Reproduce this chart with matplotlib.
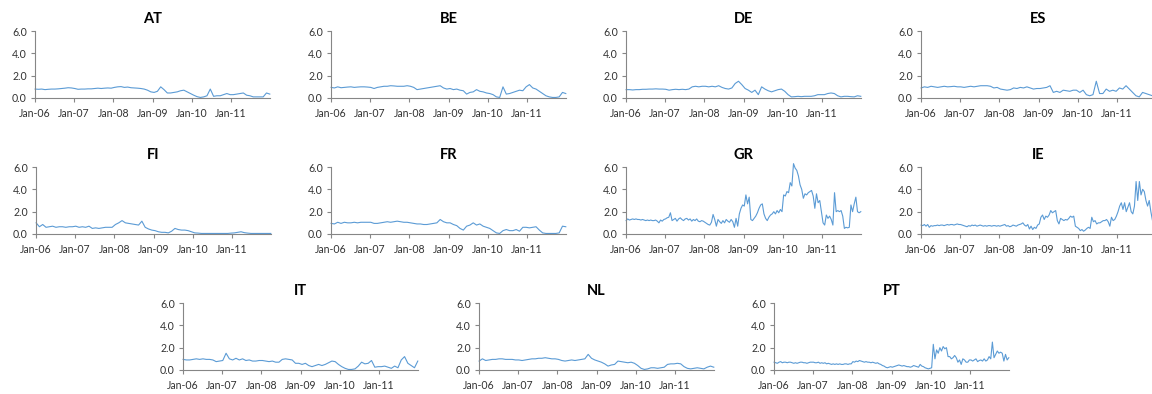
import matplotlib
matplotlib.use("Agg")
import matplotlib.pyplot as plt
import numpy as np
import pandas as pd

plt.rcParams['font.family'] = ['Lato', 'DejaVu Sans']

# Monthly spreads, Jan-06 .. Dec-11 (72 values)
AT = [0.80, 0.78, 0.80, 0.75, 0.78, 0.80, 0.80, 0.82, 0.85, 0.88, 0.92, 0.90,
      0.85, 0.78, 0.80, 0.80, 0.82, 0.82, 0.85, 0.88, 0.85, 0.88, 0.90, 0.88,
      0.95, 1.00, 1.02, 0.95, 0.98, 0.92, 0.90, 0.88, 0.85, 0.80, 0.70, 0.55,
      0.50, 0.60, 1.00, 0.75, 0.45, 0.45, 0.50, 0.55, 0.65, 0.70, 0.55, 0.40,
      0.25, 0.12, 0.05, 0.10, 0.20, 0.80, 0.15, 0.20, 0.20, 0.30, 0.40, 0.30,
      0.30, 0.35, 0.40, 0.45, 0.25, 0.20, 0.10, 0.10, 0.10, 0.10, 0.45, 0.35]

BE = [0.95, 0.90, 1.00, 0.92, 0.95, 0.98, 1.00, 0.95, 0.98, 1.00, 1.00, 0.98,
      0.95, 0.85, 0.95, 1.00, 1.05, 1.05, 1.10, 1.08, 1.05, 1.05, 1.05, 1.10,
      1.05, 0.95, 0.75, 0.80, 0.85, 0.90, 0.95, 1.00, 1.05, 1.10, 0.90, 0.80,
      0.85, 0.75, 0.80, 0.70, 0.65, 0.35, 0.50, 0.55, 0.75, 0.60, 0.55, 0.45,
      0.40, 0.30, 0.10, 0.05, 1.00, 0.35, 0.40, 0.50, 0.60, 0.70, 0.65, 1.00,
      1.20, 0.90, 0.80, 0.60, 0.40, 0.20, 0.10, 0.05, 0.05, 0.10, 0.50, 0.40]

DE = [0.75, 0.75, 0.72, 0.75, 0.75, 0.78, 0.78, 0.80, 0.80, 0.82, 0.80, 0.80,
      0.78, 0.70, 0.75, 0.78, 0.75, 0.78, 0.75, 0.80, 1.00, 1.05, 1.00, 1.05,
      1.05, 1.00, 1.05, 1.00, 1.10, 0.95, 0.85, 0.80, 0.90, 1.30, 1.50, 1.20,
      0.85, 0.70, 0.50, 0.70, 0.30, 1.00, 0.80, 0.65, 0.55, 0.65, 0.75, 0.80,
      0.60, 0.30, 0.10, 0.12, 0.15, 0.12, 0.15, 0.15, 0.15, 0.20, 0.30, 0.30,
      0.30, 0.40, 0.45, 0.40, 0.20, 0.10, 0.15, 0.15, 0.12, 0.10, 0.20, 0.15]

ES = [0.90, 1.00, 0.95, 1.05, 1.00, 0.95, 1.00, 1.05, 1.00, 1.02, 1.05, 1.00,
      1.00, 0.95, 1.00, 1.05, 1.00, 1.05, 1.10, 1.10, 1.10, 1.05, 0.90, 0.95,
      0.80, 0.75, 0.70, 0.75, 0.90, 0.85, 0.95, 0.90, 1.00, 0.90, 0.80, 0.85,
      0.85, 0.90, 0.95, 1.10, 0.50, 0.60, 0.50, 0.70, 0.65, 0.60, 0.70, 0.70,
      0.50, 0.70, 0.30, 0.20, 0.30, 1.50, 0.40, 0.40, 0.80, 0.60, 0.70, 0.60,
      0.90, 0.80, 1.10, 0.80, 0.50, 0.20, 0.10, 0.50, 0.40, 0.30, 0.20, 1.00]

FI = [1.00, 0.65, 0.85, 0.60, 0.65, 0.70, 0.60, 0.65, 0.65, 0.60, 0.65, 0.65,
      0.70, 0.60, 0.65, 0.60, 0.70, 0.50, 0.55, 0.50, 0.55, 0.60, 0.60, 0.60,
      0.85, 1.00, 1.20, 1.00, 0.95, 0.90, 0.85, 0.80, 1.15, 0.60, 0.45, 0.35,
      0.30, 0.20, 0.15, 0.15, 0.10, 0.25, 0.50, 0.40, 0.35, 0.35, 0.30, 0.20,
      0.10, 0.08, 0.05, 0.05, 0.05, 0.05, 0.05, 0.05, 0.05, 0.05, 0.05, 0.08,
      0.10, 0.15, 0.20, 0.12, 0.08, 0.05, 0.05, 0.05, 0.05, 0.05, 0.05, 0.05]

FR = [0.95, 0.90, 1.05, 0.95, 1.05, 1.00, 1.00, 1.05, 1.00, 1.05, 1.05, 1.05,
      1.05, 0.95, 0.95, 1.00, 1.05, 1.10, 1.05, 1.10, 1.15, 1.10, 1.05, 1.05,
      1.00, 0.95, 0.90, 0.90, 0.85, 0.85, 0.90, 0.95, 1.00, 1.30, 1.10, 1.00,
      1.00, 0.85, 0.75, 0.50, 0.35, 0.70, 0.80, 1.00, 0.80, 0.90, 0.70, 0.60,
      0.50, 0.30, 0.10, 0.05, 0.30, 0.40, 0.30, 0.30, 0.40, 0.25, 0.60, 0.60,
      0.55, 0.60, 0.65, 0.35, 0.10, 0.05, 0.05, 0.05, 0.05, 0.10, 0.70, 0.65]

IT = [0.95, 0.90, 0.90, 0.95, 1.00, 0.95, 1.00, 0.95, 0.95, 0.90, 0.75, 0.80,
      0.85, 1.50, 1.00, 0.90, 1.05, 0.90, 1.00, 0.85, 0.90, 0.80, 0.80, 0.85,
      0.85, 0.80, 0.75, 0.80, 0.70, 0.70, 0.95, 1.00, 0.95, 0.90, 0.60, 0.60,
      0.50, 0.60, 0.40, 0.30, 0.40, 0.50, 0.40, 0.50, 0.65, 0.80, 0.75, 0.50,
      0.30, 0.15, 0.05, 0.05, 0.10, 0.35, 0.70, 0.55, 0.60, 0.85, 0.25, 0.30,
      0.30, 0.35, 0.25, 0.15, 0.35, 0.20, 0.90, 1.20, 0.60, 0.40, 0.20, 0.80]

NL = [0.80, 1.00, 0.85, 0.90, 0.95, 0.95, 1.00, 1.00, 0.95, 0.95, 0.95, 0.90,
      0.90, 0.85, 0.90, 0.95, 1.00, 1.00, 1.05, 1.05, 1.10, 1.05, 1.00, 1.00,
      0.95, 0.85, 0.80, 0.85, 0.90, 0.85, 0.90, 0.95, 1.00, 1.40, 1.05, 0.90,
      0.80, 0.70, 0.55, 0.35, 0.45, 0.50, 0.80, 0.75, 0.70, 0.65, 0.70, 0.60,
      0.40, 0.15, 0.05, 0.10, 0.20, 0.20, 0.15, 0.20, 0.25, 0.50, 0.55, 0.55,
      0.60, 0.55, 0.30, 0.15, 0.10, 0.15, 0.20, 0.15, 0.10, 0.25, 0.35, 0.25]

# Half-monthly spreads, Jan-06 .. Dec-11 (144 values)
GR = [1.20, 1.35, 1.25, 1.30, 1.35, 1.30, 1.35, 1.30, 1.30, 1.25, 1.30, 1.25,
      1.20, 1.25, 1.20, 1.25, 1.20, 1.20, 1.25, 1.15, 1.00, 1.25, 1.15, 1.30,
      1.35, 1.45, 1.50, 1.90, 1.20, 1.30, 1.40, 1.15, 1.35, 1.45, 1.30, 1.20,
      1.35, 1.40, 1.25, 1.35, 1.15, 1.30, 1.20, 1.35, 1.15, 1.10, 1.20, 1.15,
      1.05, 0.95, 0.85, 0.80, 1.05, 1.75, 1.30, 0.70, 1.30, 1.10, 0.95, 1.20,
      1.00, 1.30, 1.15, 1.05, 1.30, 1.10, 0.60, 1.40, 0.70, 1.80, 2.30, 2.60,
      2.50, 3.50, 2.70, 3.30, 1.30, 1.20, 1.40, 1.60, 1.90, 2.30, 2.60, 2.70,
      1.80, 1.40, 1.20, 1.50, 1.70, 1.80, 2.00, 1.80, 2.10, 1.90, 2.20, 2.00,
      3.50, 3.40, 3.80, 3.70, 4.60, 4.30, 6.30, 5.90, 5.70, 5.20, 4.40, 4.00,
      3.20, 3.60, 3.50, 3.70, 3.80, 3.90, 3.40, 2.30, 3.60, 2.80, 3.00, 2.00,
      1.00, 0.80, 1.70, 1.40, 1.60, 1.30, 0.80, 3.70, 2.00, 2.10, 2.00, 2.10,
      1.60, 0.50, 0.60, 0.55, 0.60, 2.60, 2.00, 2.70, 3.30, 2.00, 1.90, 2.00]

IE = [0.80, 0.75, 0.85, 0.70, 0.85, 0.60, 0.75, 0.70, 0.75, 0.75, 0.80, 0.75,
      0.80, 0.80, 0.75, 0.80, 0.85, 0.80, 0.85, 0.85, 0.80, 0.85, 0.90, 0.85,
      0.85, 0.80, 0.75, 0.70, 0.65, 0.75, 0.70, 0.80, 0.75, 0.80, 0.70, 0.75,
      0.80, 0.75, 0.70, 0.75, 0.70, 0.75, 0.75, 0.70, 0.75, 0.75, 0.70, 0.75,
      0.70, 0.75, 0.80, 0.85, 0.70, 0.75, 0.65, 0.70, 0.80, 0.75, 0.70, 0.80,
      0.85, 0.90, 1.00, 0.80, 0.70, 0.85, 0.45, 0.70, 0.40, 0.60, 0.50, 0.80,
      0.90, 1.50, 1.70, 1.30, 1.60, 1.50, 1.70, 2.10, 1.90, 2.00, 2.10, 1.20,
      0.90, 1.40, 1.30, 1.20, 1.30, 1.25, 1.40, 1.60, 1.50, 1.60, 0.70, 0.60,
      0.50, 0.30, 0.40, 0.25, 0.35, 0.50, 0.60, 0.50, 1.50, 1.10, 1.20, 0.90,
      1.00, 1.00, 1.10, 1.20, 1.20, 1.30, 1.10, 0.70, 1.50, 1.20, 1.30, 1.60,
      2.00, 2.50, 2.80, 2.20, 2.80, 2.00, 2.40, 2.80, 2.00, 1.80, 2.50, 4.70,
      3.00, 4.70, 3.50, 4.00, 3.80, 3.00, 2.50, 3.00, 2.00, 1.20, 1.00, 1.10]

PT = [0.70, 0.65, 0.60, 0.70, 0.75, 0.65, 0.70, 0.70, 0.65, 0.70, 0.70, 0.65,
      0.60, 0.65, 0.60, 0.65, 0.70, 0.70, 0.65, 0.65, 0.60, 0.65, 0.70, 0.70,
      0.70, 0.65, 0.65, 0.70, 0.60, 0.65, 0.60, 0.65, 0.55, 0.60, 0.55, 0.50,
      0.55, 0.50, 0.55, 0.50, 0.55, 0.50, 0.50, 0.55, 0.55, 0.50, 0.55, 0.55,
      0.75, 0.70, 0.80, 0.75, 0.85, 0.80, 0.75, 0.70, 0.75, 0.70, 0.70, 0.65,
      0.70, 0.65, 0.60, 0.65, 0.55, 0.50, 0.40, 0.35, 0.25, 0.20, 0.25, 0.30,
      0.25, 0.30, 0.35, 0.40, 0.45, 0.40, 0.35, 0.40, 0.35, 0.30, 0.30, 0.25,
      0.30, 0.40, 0.35, 0.30, 0.25, 0.50, 0.35, 0.30, 0.20, 0.15, 0.10, 0.15,
      0.20, 2.30, 1.00, 1.80, 1.50, 2.00, 1.70, 2.10, 1.90, 2.00, 1.20, 1.20,
      1.00, 1.10, 1.30, 1.10, 0.70, 0.90, 0.50, 1.00, 0.90, 0.70, 0.70, 0.90,
      0.90, 0.80, 0.90, 1.00, 0.75, 0.85, 0.90, 0.80, 1.00, 0.80, 0.90, 1.20,
      1.00, 2.50, 1.10, 1.40, 1.70, 1.50, 1.60, 1.50, 0.80, 1.40, 0.90, 1.10]

countries = ["AT", "BE", "DE", "ES", "FI", "FR", "GR", "IE", "IT", "NL", "PT"]
series = {"AT": AT, "BE": BE, "DE": DE, "ES": ES, "FI": FI, "FR": FR,
          "GR": GR, "IE": IE, "IT": IT, "NL": NL, "PT": PT}
y_ticks = [0.0, 2.0, 4.0, 6.0]
x_tick_labels = ["Jan-06", "Jan-07", "Jan-08", "Jan-09", "Jan-10", "Jan-11"]

START = pd.Timestamp("2006-01-02")
END = pd.Timestamp("2011-12-30")

W, H = 1152, 394
fig = plt.figure(figsize=(W / 100, H / 100), dpi=100)

# panel placement in pixels: (left, top of plot area)
panel_px = {
    "AT": (35, 31), "BE": (331, 31), "DE": (626, 31), "ES": (921, 31),
    "FI": (36, 167), "FR": (331, 167), "GR": (626, 167), "IE": (921, 167),
    "IT": (183, 303), "NL": (479, 303), "PT": (774, 303),
}
pw, ph = 235, 67

line_color = "#5B9BD5"
axis_color = "#868686"
text_color = "#333333"

tick_dates = [pd.Timestamp(f"20{s[-2:]}-01-01") for s in x_tick_labels]

for c in countries:
    vals = series[c]
    dates = pd.date_range(START, END, periods=len(vals))
    lx, ty = panel_px[c]
    ax = fig.add_axes([lx / W, 1 - (ty + ph) / H, pw / W, ph / H])
    ax.plot(dates, vals, color=line_color, lw=0.8, clip_on=False)
    ax.set_xlim(pd.Timestamp("2006-01-01"), pd.Timestamp("2012-01-01"))
    ax.set_ylim(0, 6)
    ax.set_yticks(y_ticks)
    ax.set_yticklabels([f"{v:.1f}" for v in y_ticks])
    ax.set_xticks(tick_dates)
    ax.set_xticklabels(x_tick_labels)
    for s in ("top", "right"):
        ax.spines[s].set_visible(False)
    for s in ("left", "bottom"):
        ax.spines[s].set_color(axis_color)
        ax.spines[s].set_linewidth(0.8)
    ax.tick_params(axis="both", colors=axis_color, length=3, width=0.8,
                   labelsize=7.6, labelcolor=text_color)
    ax.tick_params(axis="x", pad=4)
    ax.tick_params(axis="y", pad=3)
    ax.patch.set_alpha(0)
    ax.set_title(c, fontsize=10.5, fontweight="bold", color="#000000", pad=6)

fig.savefig("out.png", dpi=100)
